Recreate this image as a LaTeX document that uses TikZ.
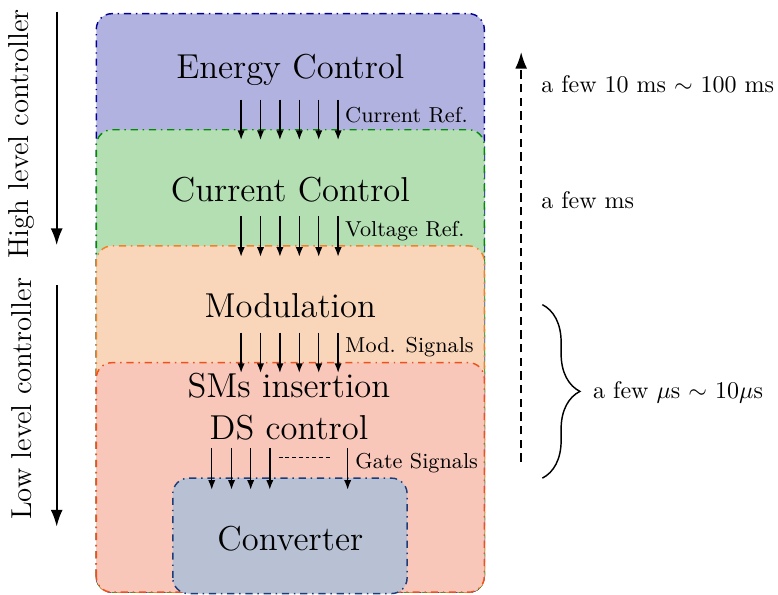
\documentclass[tikz,border=0pt]{standalone}
\usepackage{amsmath, amssymb}
\usepackage{xcolor}
\usepackage{tikz}
\usetikzlibrary{arrows.meta, decorations.pathreplacing}

\definecolor{energyfill}{RGB}{178,178,224}
\definecolor{energyline}{RGB}{0,0,150}
\definecolor{currentfill}{RGB}{179,223,179}
\definecolor{currentline}{RGB}{0,140,0}
\definecolor{modfill}{RGB}{249,214,185}
\definecolor{modline}{RGB}{240,130,40}
\definecolor{smfill}{RGB}{248,199,186}
\definecolor{smline}{RGB}{240,80,30}
\definecolor{convfill}{RGB}{183,193,211}
\definecolor{convline}{RGB}{30,60,120}

\begin{document}
\begin{tikzpicture}[
    layer/.style={rounded corners=6.5pt, semithick, dash dot},
    title/.style={font=\Large},
    sig/.style={-{Latex[length=4pt,width=3pt]}, semithick},
    siglabel/.style={font=\small, anchor=west},
    timelabel/.style={anchor=west},
    levelarrow/.style={-{Latex[length=7pt,width=5pt]}, thick}
  ]
  \useasboundingbox (0,0) rectangle (11.39,8.71);
  % energy control
  \draw[layer, fill=energyfill, draw=energyline] (1.41,0.04) rectangle (7.09,8.51);
  \node[title] (energy) at (4.25,7.69) {Energy Control};
  % current control
  \draw[layer, fill=currentfill, draw=currentline] (1.41,0.04) rectangle (7.09,6.81);
  \foreach \i in {0,...,5}
    \draw[sig] (3.53+0.284*\i,7.25) -- ++(0,-0.59);
  \node[siglabel] (curref) at (4.93,7.03) {Current Ref.};
  \node[title] (current) at (4.25,5.94) {Current Control};
  % modulation
  \draw[layer, fill=modfill, draw=modline] (1.41,0.04) rectangle (7.09,5.11);
  \foreach \i in {0,...,5}
    \draw[sig] (3.53+0.284*\i,5.55) -- ++(0,-0.60);
  \node[siglabel] (voltref) at (4.93,5.33) {Voltage Ref.};
  \node[title] (modulation) at (4.25,4.23) {Modulation};
  % SMs insertion and DS control
  \draw[layer, fill=smfill, draw=smline] (1.41,0.04) rectangle (7.09,3.40);
  \foreach \i in {0,...,5}
    \draw[sig] (3.53+0.284*\i,3.84) -- ++(0,-0.59);
  \node[siglabel] (modsig) at (4.93,3.63) {Mod. Signals};
  \node[title] (sms) at (4.23,3.07) {SMs insertion};
  \node[title] (ds) at (4.23,2.45) {DS control};
  % converter
  \draw[layer, fill=convfill, draw=convline] (2.53,0.02) rectangle (5.96,1.71);
  \node[title] (converter) at (4.25,0.83) {Converter};
  \foreach \x in {3.10,3.39,3.67,3.95,5.09}
    \draw[sig] (\x,2.15) -- (\x,1.54);
  \coordinate (dotsL) at (4.08,2.01);
  \coordinate (dotsR) at (4.86,2.01);
  \draw[semithick, dash pattern=on 1.6pt off 1.2pt] (dotsL) -- (dotsR);
  \node[siglabel] (gatesig) at (5.08,1.93) {Gate Signals};
  % controller levels
  \coordinate (highA) at (0.83,8.54);
  \coordinate (highB) at (0.83,5.12);
  \coordinate (lowA) at (0.83,4.54);
  \coordinate (lowB) at (0.83,1.00);
  \draw[levelarrow] (highA) -- (highB);
  \draw[levelarrow] (lowA) -- (lowB);
  \node[rotate=90, font=\large] (high) at (0.32,6.75) {High level controller};
  \node[rotate=90, font=\large] (low) at (0.32,2.87) {Low level controller};
  % time scales
  \coordinate (timeA) at (7.63,1.95);
  \coordinate (timeB) at (7.63,7.95);
  \draw[-{Latex[length=7pt,width=5pt]}, thick, dash pattern=on 3.5pt off 2.2pt] (timeA) -- (timeB);
  \node[timelabel] (tenms) at (7.80,7.48) {a few 10 ms $\sim$ 100 ms};
  \node[timelabel] (ms) at (7.80,5.78) {a few ms};
  \coordinate (braceA) at (7.94,4.25);
  \coordinate (braceB) at (7.94,1.71);
  \draw[semithick, decorate, decoration={brace, amplitude=0.55cm, aspect=0.5}] (braceA) -- (braceB);
  \node[timelabel] (us) at (8.56,2.96) {a few $\mu$s $\sim$ 10$\mu$s};
\end{tikzpicture}
\end{document}
